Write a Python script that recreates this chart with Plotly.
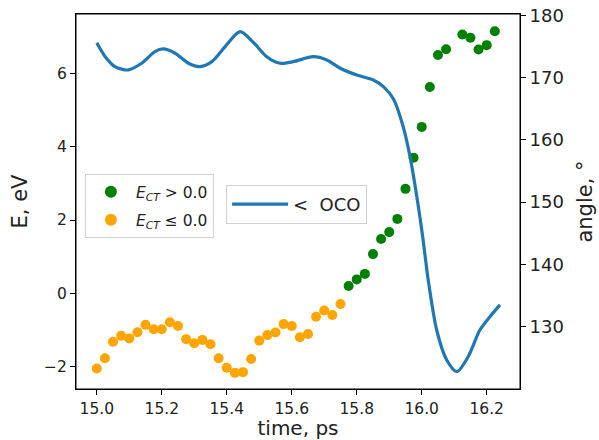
import plotly.graph_objects as go

# Energy points (time step 0.025 ps)
t_neg = [15.000, 15.025, 15.050, 15.075, 15.100, 15.125, 15.150, 15.175, 15.200, 15.225,
         15.250, 15.275, 15.300, 15.325, 15.350, 15.375, 15.400, 15.425, 15.450, 15.475,
         15.500, 15.525, 15.550, 15.575, 15.600, 15.625, 15.650, 15.675, 15.700, 15.725,
         15.750]
e_neg = [-2.05, -1.77, -1.32, -1.16, -1.23, -1.06, -0.86, -0.98, -0.98, -0.79,
         -0.89, -1.25, -1.36, -1.27, -1.39, -1.77, -2.03, -2.17, -2.15, -1.79,
         -1.29, -1.14, -1.07, -0.84, -0.89, -1.20, -1.11, -0.64, -0.47, -0.59,
         -0.29]
t_pos = [15.775, 15.800, 15.825, 15.850, 15.875, 15.900, 15.925, 15.950, 15.975, 16.000,
         16.025, 16.050, 16.075, 16.125, 16.150, 16.175, 16.200, 16.225]
e_pos = [0.20, 0.38, 0.53, 1.07, 1.48, 1.67, 2.03, 2.85, 3.70, 4.54,
         5.63, 6.50, 6.66, 7.06, 6.97, 6.65, 6.77, 7.15]

# OCO angle curve
t_ang = [15.000, 15.026, 15.056, 15.097, 15.138, 15.179, 15.205, 15.241, 15.282, 15.318,
         15.354, 15.395, 15.441, 15.482, 15.523, 15.564, 15.605, 15.666, 15.708, 15.749,
         15.800, 15.851, 15.882, 15.913, 15.943, 15.964, 15.985, 16.003, 16.020, 16.046,
         16.077, 16.108, 16.143, 16.179, 16.210, 16.241]
angle = [175.6, 173.35, 171.75, 171.22, 172.29, 174.16, 174.59, 173.90, 172.29, 171.75,
         172.55, 174.96, 177.37, 175.63, 173.35, 172.29, 172.55, 173.35, 172.82, 171.49,
         170.41, 169.61, 168.54, 166.56, 162.11, 157.30, 150.87, 144.45, 137.50, 129.47,
         124.65, 122.77, 125.18, 129.47, 131.61, 133.50]

x_ticks = [15.0, 15.2, 15.4, 15.6, 15.8, 16.0, 16.2]
y_ticks = [-2, 0, 2, 4, 6]
y2_ticks = [130, 140, 150, 160, 170, 180]

FONT = "DejaVu Sans"
TXT = "#222"

fig = go.Figure()
fig.add_trace(go.Scatter(
    x=t_pos, y=e_pos, mode="markers", yaxis="y",
    marker=dict(color="green", size=10),
    name="<i>E</i><sub><i>CT</i></sub> &gt; 0.0", legend="legend", legendgroup="a"))
fig.add_trace(go.Scatter(
    x=t_neg, y=e_neg, mode="markers", yaxis="y",
    marker=dict(color="orange", size=10),
    name="<i>E</i><sub><i>CT</i></sub> ≤ 0.0", legend="legend", legendgroup="b"))
fig.add_trace(go.Scatter(
    x=t_ang, y=angle, mode="lines", yaxis="y2",
    line=dict(color="#1f77b4", width=3.2, shape="spline", smoothing=0.8),
    name="&lt;  OCO", legend="legend2"))

fig.update_layout(
    width=599, height=440,
    margin=dict(l=76, r=79, t=14, b=51),
    paper_bgcolor="white", plot_bgcolor="white",
    font=dict(family=FONT, color=TXT),
    xaxis=dict(range=[14.936, 16.3025], tickvals=x_ticks, ticktext=[f"{v:.1f}" for v in x_ticks],
               showgrid=False, zeroline=False, showline=True, linecolor="black", linewidth=1,
               mirror=True, ticks="outside", ticklen=5, tickcolor="black", automargin=False,
               tickfont=dict(size=15.5, family=FONT, color=TXT),
               title=dict(text="time, ps", font=dict(size=20, family=FONT, color=TXT), standoff=0)),
    yaxis=dict(range=[-2.61, 7.62], tickvals=y_ticks, ticktext=["−2", "0", "2", "4", "6"],
               showgrid=False, zeroline=False, showline=True, linecolor="black", linewidth=1,
               ticks="outside", ticklen=5, tickcolor="black", automargin=False,
               tickfont=dict(size=15.5, family=FONT, color=TXT),
               title=dict(text="E, eV", font=dict(size=21, family=FONT, color=TXT), standoff=10)),
    yaxis2=dict(range=[120.0, 180.2], tickvals=y2_ticks, overlaying="y", side="right",
                showgrid=False, zeroline=False, showline=True, linecolor="black", linewidth=1,
                ticks="outside", ticklen=5, tickcolor="black", automargin=False,
                tickfont=dict(size=18, family=FONT, color=TXT),
                title=dict(text="angle, °", font=dict(size=21, family=FONT, color=TXT), standoff=14)),
    legend=dict(x=0.02, y=0.573, xanchor="left", yanchor="top",
                bgcolor="white", bordercolor="#d0d0d0", borderwidth=1,
                font=dict(size=15.5, family=FONT, color=TXT),
                tracegroupgap=5, itemsizing="constant", itemwidth=40),
    legend2=dict(x=0.338, y=0.544, xanchor="left", yanchor="top",
                 bgcolor="white", bordercolor="#d0d0d0", borderwidth=1,
                 font=dict(size=18, family=FONT, color=TXT), itemwidth=56),
    shapes=[dict(type="rect", xref="paper", yref="paper", x0=0, x1=1, y0=0, y1=1,
                 line=dict(color="black", width=1), layer="above")],
    showlegend=True,
)

fig.write_html("out.html", config={"displayModeBar": False},
               post_script="document.body.style.margin='0';document.body.style.overflow='hidden';")
